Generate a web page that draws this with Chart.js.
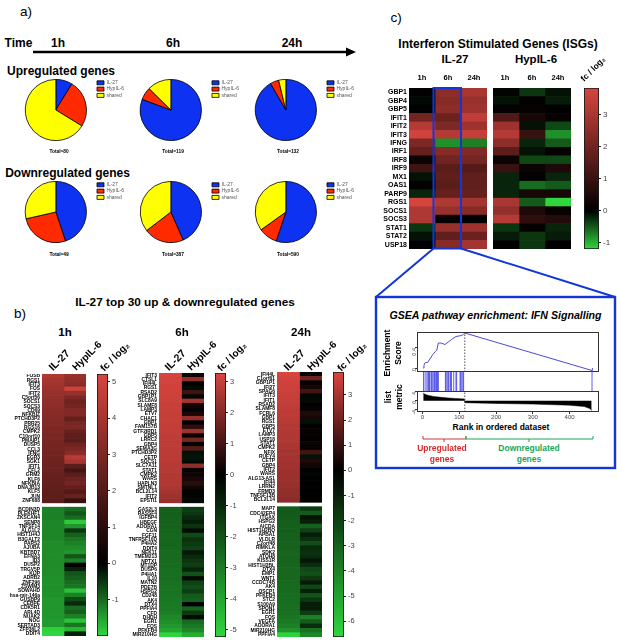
<!DOCTYPE html>
<html>
<head>
<meta charset="utf-8">
<title>IL-27 and HypIL-6 gene regulation</title>
<script src="https://cdn.jsdelivr.net/npm/chart.js@4"></script>
<style>
  html, body { margin: 0; background: #fff; }
  #page { position: relative; width: 617px; height: 641px; overflow: hidden; font-family: 'Liberation Sans', Arial, sans-serif; color: #000; }
  #page canvas { position: absolute; }
  #page svg { position: absolute; left: 0; top: 0; }
  .txt { position: absolute; white-space: nowrap; line-height: 1; font-weight: bold; }
</style>
</head>
<body>
<div id="page"></div>
<script>
// ---------- a) pie charts ----------
const pieSeries = ['IL-27', 'HypIL-6', 'shared'];
const upCounts1h = [7, 20, 53];
const upCounts6h = [96, 8, 15];
const upCounts24h = [121, 6, 5];
const downCounts1h = [22, 13, 14];
const downCounts6h = [168, 82, 137];
const downCounts24h = [325, 59, 206];

// ---------- b) top 30 genes, fc / log2 ----------
const genes1hUp = ['FOSB','RGS1','IFIT3','FOS','IFIT2','C5orf56','SOCS1','SOCS3','CD69','NFKBIZ','PTCHD3P2','PRR25','RGS16','CMPK2','C10orf10','PMAIP1','DUSP5','CCL3','IFNG','EGR3','SGK1','IFIT1','CFL2','GRM2','KLF6','NFKBIA','DNAJB13','KLF5','JUN','ZNF688'];
const genes1hDown = ['BCDIN3D','PLEKHF1','ZKSCAN4','SENP8','TNFSF14','ALG1L2','HIST1H4J','B3GALT2','PARS2','AJUBA','KBTBD7','EFNA3','ID3','DUSP2','TRGV5P','KIJP','ADRB2','ZNF296','ZSWIM3','SOWAHD','hsa-mir-146a','GUSBP9','CEBPE','CDK5R1','ARL4D','NUAK2','NOG','SERTAD3','ZFP36L2','DDIT4'];
const il27Up1h = [4.25,4.0,3.9,3.75,3.65,3.55,3.45,3.4,3.3,3.25,3.2,3.1,3.05,3.0,2.95,2.9,2.85,2.8,2.75,2.7,2.65,2.6,2.55,2.5,2.45,2.4,2.35,2.3,2.25,2.2];
const hyp6Up1h = [3.6,3.5,3.3,4.9,3.6,3.0,2.6,2.8,3.1,3.1,2.4,2.9,3.0,2.5,2.3,2.2,2.7,3.0,3.3,4.4,4.0,2.2,1.6,2.2,2.6,2.8,2.4,2.0,2.5,1.3];
const il27Down1h = [-1.2,-1.2,-1.2,-1.25,-1.25,-1.25,-1.25,-1.25,-1.3,-1.3,-1.3,-1.3,-1.3,-1.3,-1.3,-1.3,-1.35,-1.35,-1.35,-1.35,-1.35,-1.4,-1.4,-1.4,-1.4,-1.4,-1.45,-1.45,-1.95,-2.0];
const hyp6Down1h = [-1.0,-0.8,-1.0,-1.9,-1.4,-0.5,-0.9,-1.1,-1.2,-1.3,-1.4,-0.8,-1.2,0.0,-0.3,-0.8,-0.9,-1.0,-1.1,-1.8,-1.2,-0.7,-0.4,-1.0,-0.9,-1.2,-1.8,-1.1,-1.7,-0.3];
const barTicks1h = [-1, 0, 1, 2, 3, 4, 5];

const genes6hUp = ['IFIT3','CTSL1','IFI44L','RGS1','RSAD2','GBP1P1','SLC8A9','SLAMF8','LAMP3','ETV7','CHAC1','GBP1','FAM157B','GTF2IRD1','GBP5','LRRC2','GBP4','SEMA3G','PTCHD3P2','CETP','SOCS1','SLC7A11','STAT1','CMPK2','WARS','HAPLN3','SMTNL1','BCL2L14','IFIT2','EPSTI1'];
const genes6hDown = ['GAS2L3','RASSF4','IGFBP4','HBEGF','ADORA1','CGN','FGF11','TNFRSF10D','P4HA2','DDIT4','NEK11','TMEM213','NPTX1','MT1DP','DUSP6','P4HA1','IL10','MATN2','PDE7B','HSPG2','CD248','AK4','DTX4','PPFIA4','CFD','DHDH','EGR1','FOS','PFKFB4','MIR210HG'];
const il27Up6h = [3.25,3.2,3.2,3.15,3.15,3.1,3.1,3.05,3.05,3.0,3.0,3.0,2.95,2.95,2.9,2.9,2.9,2.85,2.85,2.8,2.8,2.75,2.75,2.7,2.7,2.65,2.6,2.5,2.4,2.3];
const hyp6Up6h = [0.2,2.2,0.0,-0.3,0.9,-0.2,2.5,0.3,0.1,0.4,2.3,0.0,0.7,2.4,0.1,1.8,0.1,1.3,-0.4,-0.5,-0.3,2.2,0.1,0.2,0.4,0.6,0.3,-0.1,-0.1,-0.2];
const il27Down6h = [-2.3,-2.3,-2.4,-2.4,-2.4,-2.45,-2.5,-2.5,-2.5,-2.55,-2.6,-2.6,-2.6,-2.65,-2.7,-2.7,-2.7,-2.75,-2.8,-2.8,-2.85,-2.9,-2.95,-3.0,-3.1,-3.3,-3.5,-3.7,-4.0,-5.2];
const hyp6Down6h = [-1.5,-1.3,-1.0,-0.7,-1.2,-0.3,-1.8,-1.2,-1.4,-1.6,-0.6,-1.0,-1.3,-1.5,-0.9,-2.0,-0.3,-1.6,-1.9,-1.5,-2.2,-2.3,0.0,-2.4,-1.4,-0.3,-2.6,-2.9,-3.3,-4.2];
const barTicks6h = [-5, -4, -3, -2, -1, 0, 1, 2, 3];

const genes24hUp = ['IFI44L','C1orf61','GBP1P1','IFI27','SPAG6','IFIT3','IFIT1','RSAD2','SLAMF8','FCRL6','GBP1','RGS1','GBP5','ETV7','LAMP3','USP18','STAT1','CMPK2','NFIX','RUFY4','CETP','GBP4','IFIT2','WARS','ALG13-AS1','IFI44','LRRN2','FRMD3','TNFSF13B','BCL2L14'];
const genes24hDown = ['MAP7','CDC42EP4','ITGAX','HSPG2','AICDA','HIST1H2BO','APBA1','VLDLR','C2orf48','RIMKLA','SDK2','ATOH8','KISS1R','HIST1H2BL','DTX4','EMP1','WNT1','CCDC74B','AK4','OSCP1','PFKFB4','STC2','S100A9','SPON1','EGR1','FOS','VEGFA','ADORA1','MIR210HG','PPFIA4'];
const il27Up24h = [3.85,3.8,3.75,3.7,3.65,3.6,3.55,3.5,3.45,3.4,3.35,3.3,3.25,3.2,3.2,3.15,3.1,3.05,3.0,2.95,2.95,2.9,2.85,2.8,2.8,2.75,2.7,2.65,2.6,2.55];
const hyp6Up24h = [-0.2,2.0,0.1,0.4,1.2,-0.2,-0.3,0.0,0.1,0.6,0.4,-0.5,0.0,0.1,0.1,0.0,0.2,0.1,1.2,-0.6,0.6,0.3,0.0,-0.2,0.0,0.0,0.05,0.0,0.0,0.05];
const il27Down24h = [-2.8,-2.8,-2.85,-2.9,-2.9,-2.95,-3.0,-3.0,-3.0,-3.05,-3.1,-3.1,-3.1,-3.15,-3.2,-3.2,-3.2,-3.25,-3.3,-3.3,-3.35,-3.4,-3.4,-3.45,-3.5,-3.6,-3.8,-4.0,-4.5,-6.5];
const hyp6Down24h = [-1.8,-2.8,-0.6,-1.0,-3.0,-2.0,-0.9,-1.5,-2.4,-1.3,-1.5,-1.3,-0.7,-1.4,-2.3,-2.5,-1.8,-0.8,-2.2,-1.0,-2.6,-1.7,-0.9,-0.9,-1.9,-3.9,-2.8,-1.4,-3.5,-4.2];
const barTicks24h = [-6, -5, -4, -3, -2, -1, 0, 1, 2, 3];

// ---------- c) interferon stimulated genes ----------
const isgGenes = ['GBP1','GBP4','GBP5','IFIT1','IFIT2','IFIT3','IFNG','IRF1','IRF8','IRF9','MX1','OAS1','PARP9','RGS1','SOCS1','SOCS3','STAT1','STAT2','USP18'];
const isgIl27_1h = [0.05,-0.05,0.0,2.0,3.2,3.7,2.2,1.8,0.2,1.1,-0.1,0.05,-0.2,3.8,3.1,3.1,-0.3,-0.1,0.0];
const isgIl27_6h = [2.5,2.4,2.5,1.9,2.2,3.2,-0.8,2.4,2.0,1.6,1.7,1.6,1.8,3.1,2.7,0.1,2.7,1.7,2.4];
const isgIl27_24h = [3.0,2.7,2.8,3.4,2.8,3.5,-0.7,2.3,2.1,1.5,1.7,1.7,1.8,2.9,2.4,0.0,2.8,1.9,2.9];
const isgHyp6_1h = [-0.02,-0.1,0.05,1.4,2.8,3.2,2.5,1.6,0.2,1.0,-0.2,-0.2,-0.2,3.0,2.6,3.2,-0.3,-0.15,0.02];
const isgHyp6_6h = [-0.3,0.05,0.1,0.4,-0.1,1.0,-0.2,-0.1,-0.4,0.2,0.05,-0.6,0.4,-0.5,0.5,0.8,0.1,-0.3,-0.3];
const isgHyp6_24h = [-0.1,-0.15,0.02,0.1,-0.4,-0.8,-0.5,0.1,-0.4,0.5,-0.2,-0.5,0.4,-1.19,0.1,0.6,-0.2,-0.15,0.0];
const barTicksIsg = [-1, 0, 1, 2, 3];

// ---------- c) GSEA panels ----------
const esRank = [2,4,6,8,14,20,28,35,39,43,50,61,70,79,85,91,99,106,111,115,461,462];
const esScore = [0.0,0.05,0.1,0.11,0.11,0.18,0.27,0.33,0.36,0.5,0.5,0.47,0.52,0.57,0.6,0.63,0.64,0.65,0.67,0.7,-0.05,0.0];
const esTicks = [0, 0.4];
const hitRanks = [3,7,12,15,17,19,23,25,28,31,33,36,38,41,43,62,64,67,70,72,76,79,85,91,93,102,104,107,110,112,461];
const metricRank = [2,5,10,20,30,50,70,90,113,116,200,300,400,440,455,460];
const metricValue = [3.5,3.0,2.6,2.2,1.9,1.5,1.2,1.0,0.8,-0.9,-1.2,-1.5,-2.0,-2.6,-3.5,-4.3];
const metricTicks = [-4, 0, 4];
const rankTicks = [0, 100, 200, 300, 400];
const leadingEdgeRank = 115;

// colours
const PIE_COLORS = ['#0d32f2', '#ff2a00', '#ffff00'];
const RED_END = [216, 69, 63];
const GREEN_END = [47, 214, 63];
const BLUE = '#1236d8';

const page = document.getElementById('page');
Chart.defaults.font.family = "'Liberation Sans', Arial, sans-serif";
Chart.defaults.animation = false;
Chart.defaults.responsive = false;
Chart.defaults.devicePixelRatio = 1;
Chart.defaults.plugins.tooltip.enabled = false;

function canvasAt(x, y, w, h) {
  const c = document.createElement('canvas');
  c.width = w; c.height = h;
  c.style.left = x + 'px'; c.style.top = y + 'px';
  page.appendChild(c);
  return c.getContext('2d');
}

function text(str, cx, cy, size, opts = {}) {
  const d = document.createElement('div');
  d.className = 'txt';
  d.textContent = str;
  d.style.left = cx + 'px'; d.style.top = cy + 'px';
  d.style.fontSize = size + 'px';
  d.style.transform = `translate(-50%,-50%) rotate(${opts.rot || 0}deg)`;
  if (opts.weight) d.style.fontWeight = opts.weight;
  if (opts.color) d.style.color = opts.color;
  if (opts.italic) d.style.fontStyle = 'italic';
  if (opts.lh) { d.style.whiteSpace = 'pre'; d.style.lineHeight = opts.lh + 'px'; d.style.textAlign = 'center'; }
  page.appendChild(d);
}

function fcColor(v, lo, hi) {
  const t = v >= 0 ? Math.min(v / hi, 1) : Math.min(v / lo, 1);
  const end = v >= 0 ? RED_END : GREEN_END;
  return `rgb(${end.map(c => Math.round(c * t)).join(',')})`;
}

// scales reserve room for half a tick label at each end, we want the plot area exact
function noPad(s) { s.paddingTop = s.paddingBottom = s.paddingLeft = s.paddingRight = 0; }

// ---------- chart helpers ----------
function pie(cx, cy, counts) {
  new Chart(canvasAt(cx - 38, cy - 31, 118, 62), {
    type: 'pie',
    data: {
      labels: pieSeries,
      datasets: [{ data: counts, backgroundColor: PIE_COLORS, borderColor: '#000', borderWidth: 0.8 }]
    },
    options: {
      layout: { padding: 0 },
      plugins: {
        legend: {
          position: 'right', align: 'start',
          labels: { boxWidth: 7, boxHeight: 4, padding: 1.3, color: '#555', font: { size: 5 } }
        }
      }
    }
  });
}

function heatmap(x, y, w, h, labelW, labels, columns, lo, hi, fontSize) {
  new Chart(canvasAt(x - labelW, y, w + labelW, h), {
    type: 'bar',
    data: {
      labels,
      datasets: columns.map(col => ({
        data: col.map(v => (v === null ? null : 1)),
        backgroundColor: col.map(v => (v === null ? '#fff' : fcColor(v, lo, hi))),
        barPercentage: 1, categoryPercentage: 1
      }))
    },
    options: {
      indexAxis: 'y',
      plugins: { legend: { display: false } },
      scales: {
        x: { stacked: true, display: false, min: 0, max: columns.length },
        y: {
          stacked: true,
          display: labelW > 0,
          grid: { display: false, drawTicks: false },
          border: { display: false },
          afterFit: s => { noPad(s); s.width = labelW; },
          ticks: { autoSkip: false, padding: 2, color: '#000', font: { size: fontSize, weight: 'bold' } }
        }
      }
    }
  });
}

function colorBar(x, y, w, h, lo, hi, tickValues, tickSize) {
  new Chart(canvasAt(x, y, w + 16, h), {
    type: 'bar',
    data: {
      labels: ['fc / log2'],
      datasets: [{
        data: [[lo, hi]],
        barPercentage: 1, categoryPercentage: 1,
        borderColor: '#1a1a1a', borderWidth: 1.2, borderSkipped: false,
        backgroundColor: ctx => {
          const area = ctx.chart.chartArea;
          if (!area) return '#000';
          const g = ctx.chart.ctx.createLinearGradient(0, area.bottom, 0, area.top);
          const zero = -lo / (hi - lo);
          g.addColorStop(0, fcColor(lo, lo, hi));
          g.addColorStop(zero, '#000');
          g.addColorStop(1, fcColor(hi, lo, hi));
          return g;
        }
      }]
    },
    options: {
      plugins: { legend: { display: false } },
      scales: {
        x: { display: false },
        y: {
          position: 'right', min: lo, max: hi,
          afterBuildTicks: s => { s.ticks = tickValues.map(value => ({ value })); },
          afterFit: s => { noPad(s); s.width = 16; },
          grid: { drawOnChartArea: false, tickLength: 2, color: '#222' },
          border: { display: false },
          ticks: { padding: 2, color: '#444', font: { size: tickSize } }
        }
      }
    }
  });
}

const frame = {
  id: 'frame',
  afterDraw(chart) {
    const a = chart.chartArea, c = chart.ctx;
    c.save(); c.strokeStyle = '#333'; c.lineWidth = 1;
    c.strokeRect(Math.round(a.left) + 0.5, Math.round(a.top) + 0.5, Math.round(a.width) - 1, Math.round(a.height) - 1);
    c.restore();
  }
};

const rankAxis = { type: 'linear', min: -15, max: 480, display: false, offset: false, grid: { offset: false } };

function leftAxis(min, max, tickValues, labelW, fmt) {
  return {
    min, max,
    afterBuildTicks: s => { s.ticks = tickValues.map(value => ({ value })); },
    afterFit: s => { noPad(s); s.width = labelW; },
    grid: { drawOnChartArea: false, tickLength: 2, color: '#333' },
    border: { display: false },
    ticks: {
      padding: 1, color: '#444',
      font: { size: 5.5 }, minRotation: 90, maxRotation: 90, callback: fmt
    }
  };
}

function xy(xs, ys) { return xs.map((x, i) => ({ x, y: ys[i] })); }

// ---------- a) ----------
text('a)', 26, 12, 13.5, { weight: 'normal' });
text('Time', 18.5, 43, 12);
text('1h', 58, 43, 12);
text('6h', 173, 43, 12);
text('24h', 292, 43, 12);
text('Upregulated genes', 61, 71, 12);
text('Downregulated genes', 67.5, 173, 12);

pie(54, 110, upCounts1h);
pie(169, 110, upCounts6h);
pie(284, 110, upCounts24h);
pie(54, 212, downCounts1h);
pie(169, 212, downCounts6h);
pie(284, 212, downCounts24h);

[[59, 152, 80], [173, 152, 119], [288, 152, 132], [59, 255, 49], [173, 255, 387], [288, 255, 590]]
  .forEach(t => text('Total=' + t[2], t[0], t[1], 4.8));

// ---------- b) ----------
text('b)', 20, 314, 13.5, { weight: 'normal' });
text('IL-27 top 30 up & downregulated genes', 185, 303, 11.8);

function genePanel(hour, hourX, x, w, top, h, upGenes, downGenes, il27, hyp6, lo, hi) {
  text(hour, hourX, 333, 11.5);
  heatmap(x, top, w, h, x - 1, [...upGenes, '', ...downGenes], [il27, hyp6], lo, hi, 4.9);
}

genePanel('1h', 65, 42, 44, 374, 262, genes1hUp, genes1hDown,
  [...il27Up1h, null, ...il27Down1h], [...hyp6Up1h, null, ...hyp6Down1h], -2, 5.22);
colorBar(97, 374, 11, 262, -2, 5.22, barTicks1h, 7.5);

genePanel('6h', 182, 159, 45, 373, 264, genes6hUp, genes6hDown,
  [...il27Up6h, null, ...il27Down6h], [...hyp6Up6h, null, ...hyp6Down6h], -5.23, 3.29);
colorBar(215, 373, 11, 264, -5.23, 3.29, barTicks6h, 7.5);

genePanel('24h', 301, 277, 45, 372, 265, genes24hUp, genes24hDown,
  [...il27Up24h, null, ...il27Down24h], [...hyp6Up24h, null, ...hyp6Down24h], -6.63, 3.91);
colorBar(333, 372, 11, 265, -6.63, 3.91, barTicks24h, 7.5);

[[59, 87, 115], [175, 202, 232], [294, 322, 352]].forEach(p => {
  text('IL-27', p[0], 360, 10.5, { rot: -45 });
  text('HypIL-6', p[1], 356, 10, { rot: -45 });
  text('fc / log₂', p[2], 357, 10, { rot: -45 });
});

// ---------- c) ----------
text('c)', 396, 18, 13.5, { weight: 'normal' });
text('Interferon Stimulated Genes (ISGs)', 498, 44, 12);
text('IL-27', 455, 60, 11.5);
text('HypIL-6', 536, 60, 11.5);
[[422, '1h'], [448, '6h'], [474, '24h'], [505, '1h'], [532, '6h'], [558, '24h']]
  .forEach(t => text(t[1], t[0], 78, 7.5));

heatmap(409, 88, 78, 161, 409 - 340, isgGenes, [isgIl27_1h, isgIl27_6h, isgIl27_24h], -1.19, 3.84, 7);
heatmap(493, 88, 78, 161, 0, isgGenes, [isgHyp6_1h, isgHyp6_6h, isgHyp6_24h], -1.19, 3.84, 7);
colorBar(584, 88, 15, 161, -1.19, 3.84, barTicksIsg, 8);
text('fc / log₂', 593, 69, 8.5, { rot: -45 });

// GSEA box contents
text('GSEA pathway enrichment: IFN Signalling', 495.5, 315, 10.6, { italic: true });

new Chart(canvasAt(403, 332, 196, 40), {
  type: 'line',
  data: {
    datasets: [
      { data: xy(esRank, esScore), borderColor: '#4a4ad8', borderWidth: 1, pointRadius: 0 },
      { data: xy([leadingEdgeRank, leadingEdgeRank], [-0.08, 0.72]), borderColor: '#222', borderWidth: 0.8, borderDash: [1.5, 1.5], pointRadius: 0 }
    ]
  },
  options: {
    plugins: { legend: { display: false } },
    scales: { x: rankAxis, y: leftAxis(-0.08, 0.72, esTicks, 14, v => v.toFixed(1)) }
  },
  plugins: [frame]
});

new Chart(canvasAt(417, 372, 182, 19), {
  type: 'bar',
  data: { datasets: [{ data: hitRanks.map(r => ({ x: r, y: 1 })), backgroundColor: '#3a3ae0', barThickness: 0.8, inflateAmount: 0 }] },
  options: {
    plugins: { legend: { display: false } },
    scales: { x: rankAxis, y: { display: false, min: 0, max: 1 } }
  }
});

new Chart(canvasAt(403, 391, 196, 30), {
  type: 'line',
  data: {
    datasets: [
      { data: xy(metricRank, metricValue), borderColor: '#000', backgroundColor: '#000', borderWidth: 0.5, fill: 'origin', pointRadius: 0 },
      { data: xy([leadingEdgeRank, leadingEdgeRank], [-5, 4.3]), borderColor: '#222', borderWidth: 0.8, borderDash: [1.5, 1.5], pointRadius: 0 }
    ]
  },
  options: {
    plugins: { legend: { display: false } },
    scales: {
      x: {
        type: 'linear', min: -15, max: 480,
        afterBuildTicks: s => { s.ticks = rankTicks.map(value => ({ value })); },
        afterFit: s => { noPad(s); s.height = 9; },
        grid: { drawOnChartArea: false, tickLength: 2, color: '#333' },
        border: { display: false },
        ticks: { padding: 0, maxRotation: 0, color: '#444', font: { size: 6 } }
      },
      y: leftAxis(-5, 4.3, metricTicks, 14)
    }
  },
  plugins: [frame]
});

text('Enrichment\nScore', 393, 353, 8.5, { rot: -90, lh: 11 });
text('list\nmetric', 393.5, 397, 8.5, { rot: -90, lh: 11 });
text('Rank in ordered dataset', 501, 427, 8.5);
text('Upregulated\ngenes', 442, 453.5, 8.5, { lh: 11, color: '#d92a2a' });
text('Downregulated\ngenes', 529, 453.5, 8.5, { lh: 11, color: '#17a65a' });

// ---------- arrow, brackets, blue zoom box ----------
page.insertAdjacentHTML('beforeend', `
<svg width="617" height="641" fill="none">
  <line x1="33" y1="52" x2="348" y2="52" stroke="#000" stroke-width="2.6"/>
  <polygon points="346,47.5 356,52 346,56.5" fill="#000"/>
  <rect x="433.5" y="88" width="27.5" height="160.5" stroke="${BLUE}" stroke-width="2"/>
  <path d="M433.5 248.5 L376 297 M461 248.5 L615 297" stroke="${BLUE}" stroke-width="2"/>
  <rect x="376" y="297" width="239" height="171" stroke="${BLUE}" stroke-width="2.4"/>
  <path d="M423 436 V439 H466 V436 M444 439 V442" stroke="#c9383a" stroke-width="1"/>
  <path d="M466 436 V439 H593 V436 M529 439 V442" stroke="#17a65a" stroke-width="1"/>
</svg>`);
</script>
</body>
</html>
